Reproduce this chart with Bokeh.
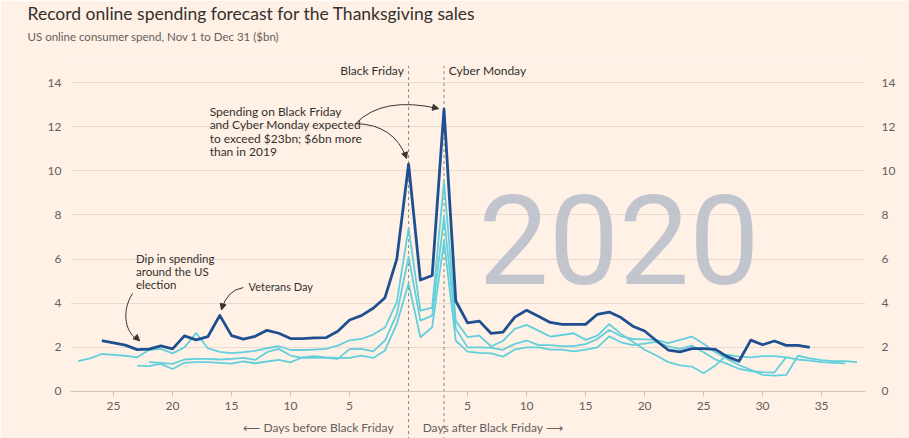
from bokeh.plotting import figure
from bokeh.models import Range1d, FixedTicker, LinearAxis, Title, Arrow, NormalHead
from bokeh.core.properties import value
from bokeh.embed import file_html
from bokeh.resources import INLINE

# ---------------- data ----------------
title = "Record online spending forecast for the Thanksgiving sales"
subtitle = "US online consumer spend, Nov 1 to Dec 31 ($bn)"

days_2020 = list(range(-26, 35))
spend_2020 = [2.3, 2.2, 2.1, 1.9, 1.92, 2.07, 1.93, 2.52, 2.34, 2.49, 3.45, 2.53, 2.37,
              2.5, 2.77, 2.64, 2.4, 2.4, 2.43, 2.44, 2.73, 3.24, 3.44, 3.77, 4.25, 6.0,
              10.3, 5.05, 5.26, 12.8, 4.1, 3.11, 3.19, 2.63, 2.69, 3.37, 3.68, 3.41, 3.13,
              3.04, 3.04, 3.04, 3.5, 3.6, 3.35, 2.96, 2.74, 2.3, 1.88, 1.8, 1.94, 1.94,
              1.91, 1.58, 1.37, 2.33, 2.12, 2.29, 2.09, 2.09, 2.0]

days_2019 = list(range(-28, 33))
spend_2019 = [1.38, 1.5, 1.7, 1.66, 1.62, 1.55, 1.88, 1.93, 1.73, 2.0, 2.65, 1.95, 1.8,
              1.74, 1.78, 1.84, 1.96, 2.05, 1.88, 1.88, 1.9, 1.93, 2.08, 2.32, 2.38, 2.58,
              2.9, 4.05,
              7.4, 3.66, 3.8, 9.5, 3.2, 2.46, 2.53, 2.04, 2.3, 2.84, 3.02, 2.76, 2.49, 2.56,
              2.64, 2.34, 2.53, 3.05, 2.61, 2.25, 1.89, 1.63, 1.33, 1.18, 1.13, 0.83, 1.18,
              1.67, 1.58, 1.55, 1.6, 1.6, 1.55]

days_2018 = list(range(-22, 39))
spend_2018 = [1.33, 1.3, 1.25, 1.45, 1.48, 1.48, 1.45, 1.48, 1.52, 1.43, 1.78, 1.93, 1.63,
              1.52, 1.52, 1.52, 1.48, 1.92, 1.93, 1.82, 2.31, 3.51,
              6.1, 3.21, 3.44, 7.9, 2.85, 2.0, 2.0, 1.98, 1.89, 2.16, 2.31, 2.1, 2.1, 2.06,
              2.06, 2.15, 2.38, 2.79, 2.5, 2.38, 2.36, 2.34, 2.19, 2.34, 2.49, 2.16, 1.78,
              1.48, 1.2, 0.98, 0.75, 0.72, 0.75, 1.62, 1.5, 1.42, 1.38, 1.38, 1.33]

days_2017 = list(range(-23, 38))
spend_2017 = [1.17, 1.15, 1.25, 1.02, 1.3, 1.33, 1.33, 1.3, 1.26, 1.36, 1.28, 1.36, 1.43,
              1.32, 1.55, 1.6, 1.55, 1.52, 1.52, 1.63, 1.52, 1.86, 3.06,
              4.9, 2.46, 2.91, 6.8, 2.3, 1.81, 1.75, 1.73, 1.58, 1.9, 2.0, 2.0, 1.9, 1.9,
              1.82, 1.9, 2.0, 2.5, 2.23, 2.1, 2.17, 2.25, 2.05, 1.93, 2.08, 1.78, 1.45,
              1.25, 1.03, 0.92, 0.88, 0.86, 1.55, 1.45, 1.4, 1.33, 1.3, 1.27]

event_names = ["Black Friday", "Cyber Monday"]
event_days = [0, 3]

y_ticks = [0, 2, 4, 6, 8, 10, 12, 14]
x_ticks = [-25, -20, -15, -10, -5, 5, 10, 15, 20, 25, 30, 35]
x_tick_labels = ["25", "20", "15", "10", "5", "5", "10", "15", "20", "25", "30", "35"]

note_peaks = "Spending on Black Friday\nand Cyber Monday expected\nto exceed $23bn; $6bn more\nthan in 2019"
note_dip = "Dip in spending\naround the US\nelection"
note_vet = "Veterans Day"
label_before = "\u27f5 Days before Black Friday"
label_after = "Days after Black Friday \u27f6"
watermark = "2020"

# ---------------- style ----------------
BG = "#fff1e5"
DARK = "#1d4f91"
LIGHT = "#63cfdc"
TXT = "#33302e"
MUTED = "#66605c"
FONT = "Lato"

p = figure(width=909, height=438, output_backend="svg", toolbar_location=None,
           x_range=Range1d(-28.65, 38.72), y_range=Range1d(-2.13, 15.0),
           min_border_left=70, min_border_right=44, min_border_top=60, min_border_bottom=0,
           background_fill_color=BG, border_fill_color=BG, outline_line_color=None,
           title=title)

p.title.text_font = FONT
p.title.text_font_size = "17.5px"
p.title.text_font_style = "normal"
p.title.text_color = TXT
p.title.align = "left"
p.title.offset = -43
p.title.standoff = -26
sub = Title(text=subtitle, text_font=FONT, text_font_size="11.5px", text_font_style="normal",
            text_color=MUTED, align="left", offset=-43, standoff=35)
p.add_layout(sub, "above")

# watermark
p.text(x=[17.84], y=[6.9], text=[watermark], text_font=value("Roboto"),
       text_font_size="125px", text_font_style="normal", text_color="#c2c5ce",
       text_align="center", text_baseline="alphabetic")

# grid & axes
p.xgrid.visible = False
p.ygrid.ticker = FixedTicker(ticks=y_ticks)
p.ygrid.grid_line_color = "#e8dbd0"
p.ygrid.grid_line_width = 1

xa = p.xaxis[0]
xa.ticker = FixedTicker(ticks=x_ticks)
xa.major_label_overrides = {t: l for t, l in zip(x_ticks, x_tick_labels)}
xa.fixed_location = 0
xa.axis_line_color = "#cfc3b8"
xa.major_tick_line_color = "#cfc3b8"
xa.major_tick_out = 5
xa.major_tick_in = 0
xa.minor_tick_line_color = None
xa.major_label_text_font = FONT
xa.major_label_text_font_size = "12px"
xa.major_label_text_color = MUTED
xa.major_label_standoff = 6

ya = p.yaxis[0]
ya.ticker = FixedTicker(ticks=y_ticks)
ya.axis_line_color = None
ya.major_tick_line_color = None
ya.minor_tick_line_color = None
ya.major_label_text_font = FONT
ya.major_label_text_font_size = "12px"
ya.major_label_text_color = MUTED
ya.major_label_standoff = 3

ra = LinearAxis(ticker=FixedTicker(ticks=y_ticks), axis_line_color=None,
                major_tick_line_color=None, minor_tick_line_color=None,
                major_label_text_font=FONT, major_label_text_font_size="12px",
                major_label_text_color=MUTED, major_label_standoff=10)
p.add_layout(ra, "right")

# event lines
p.segment(x0=event_days, y0=[-2.2] * 2, x1=event_days, y1=[14.75] * 2,
          line_color="#8a8580", line_dash="3 3", line_width=1)
p.text(x=[event_days[0] - 0.4], y=[14.55], text=[event_names[0]], text_font=value(FONT),
       text_font_size="12px", text_color=TXT, text_align="right", text_baseline="middle")
p.text(x=[event_days[1] + 0.4], y=[14.55], text=[event_names[1]], text_font=value(FONT),
       text_font_size="12px", text_color=TXT, text_align="left", text_baseline="middle")

# series
for d, s in [(days_2017, spend_2017), (days_2018, spend_2018), (days_2019, spend_2019)]:
    p.line(d, s, line_color=LIGHT, line_width=1.8, line_join="round")
p.line(days_2020, spend_2020, line_color=DARK, line_width=2.8, line_join="round")

# bottom labels
p.text(x=[-1.27], y=[-1.63], text=[label_before], text_font=value(FONT), text_font_size="12px",
       text_color=MUTED, text_align="right", text_baseline="middle")
p.text(x=[1.19], y=[-1.63], text=[label_after], text_font=value(FONT), text_font_size="12px",
       text_color=MUTED, text_align="left", text_baseline="middle")

# annotations
ANN = "#3a3633"
p.text(x=[-16.86], y=[13.05], text=[note_peaks], text_font=value(FONT), text_font_size="12px",
       text_color=TXT, text_align="left", text_baseline="top", text_line_height=0.9)
p.text(x=[-23.1], y=[6.3], text=[note_dip], text_font=value(FONT), text_font_size="11.5px",
       text_color=TXT, text_align="left", text_baseline="top", text_line_height=0.97)
p.text(x=[-13.56], y=[4.77], text=[note_vet], text_font=value(FONT), text_font_size="11px",
       text_color=TXT, text_align="left", text_baseline="middle")

curves_q = [  # x0, y0, x1, y1, cx, cy
    (-4.49, 12.14, 2.54, 12.82, -2.2, 13.4),
    (-4.49, 12.14, -0.17, 10.56, -1.2, 12.1),
    (-14.0, 4.71, -15.85, 3.7, -15.4, 4.6),
]
for x0, y0, x1, y1, cx, cy in curves_q:
    p.quadratic(x0=[x0], y0=[y0], x1=[x1], y1=[y1], cx=[cx], cy=[cy],
                line_color=ANN, line_width=1)
    p.add_layout(Arrow(end=NormalHead(size=6, fill_color=ANN, line_color=ANN),
                       x_start=x1 - (x1 - cx) * 0.08, y_start=y1 - (y1 - cy) * 0.08,
                       x_end=x1, y_end=y1, line_alpha=0))

p.bezier(x0=[-23.39], y0=[4.44], x1=[-22.8], y1=[2.3], cx0=[-24.4], cy0=[3.6],
         cx1=[-24.0], cy1=[2.6], line_color=ANN, line_width=1)
p.add_layout(Arrow(end=NormalHead(size=6, fill_color=ANN, line_color=ANN),
                   x_start=-23.0, y_start=2.4, x_end=-22.8, y_end=2.3, line_alpha=0))

open("out.html", "w").write(file_html(p, INLINE))
